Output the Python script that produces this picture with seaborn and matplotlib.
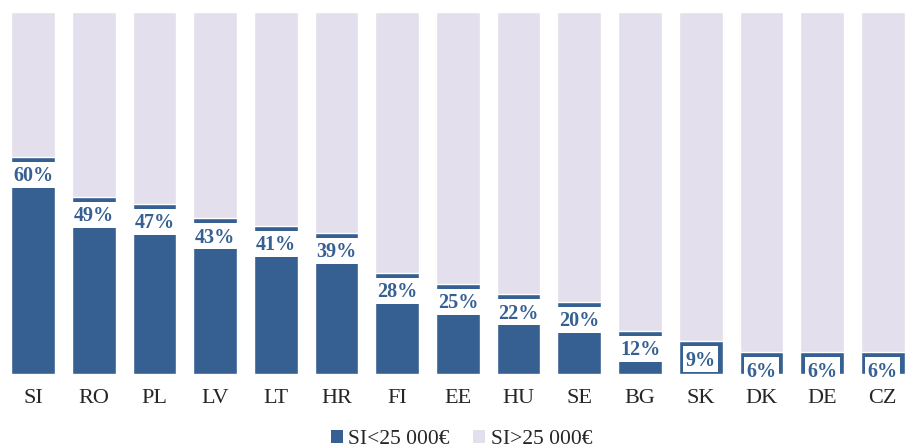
import matplotlib
matplotlib.use("Agg")
import matplotlib.pyplot as plt
import seaborn as sns
import pandas as pd
from matplotlib.patches import Patch, Rectangle

# 데이터
countries = ["SI", "RO", "PL", "LV", "LT", "HR", "FI", "EE", "HU", "SE", "BG", "SK", "DK", "DE", "CZ"]
share_low = [60, 49, 47, 43, 41, 39, 28, 25, 22, 20, 12, 9, 6, 6, 6]
series_names = ["SI<25 000€", "SI>25 000€"]

dark = "#366092"
light = "#E4DFEC"

sns.set_theme(style="white")
plt.rcParams["font.family"] = ["Liberation Serif", "DejaVu Serif"]

df = pd.DataFrame({"country": countries, "low": [v / 100 for v in share_low]})
df["total"] = 1.0

fig = plt.figure(figsize=(9.05, 4.48), dpi=100)
ax = fig.add_axes([0, 74 / 448, 1, 362 / 448])

# 전체(100%) 막대 위에 하위 구간 막대
sns.barplot(data=df, x="country", y="total", color=light, width=0.72, saturation=1, ax=ax)
sns.barplot(data=df, x="country", y="low", color=dark, width=0.72, saturation=1, ax=ax)

ax.set_xlim(-33 / 60.7, (905 - 33) / 60.7)
ax.set_ylim(0, 1)

# 값 라벨 + 흰 배경 박스 (막대 윗부분 5px 남김)
renderer = fig.canvas.get_renderer()
inv = ax.transData.inverted()
for i, v in enumerate(share_low):
    px, py = ax.transData.transform((i, v / 100))
    box_top = py - 5
    box_h = 26
    t = ax.text(i, 0, f"{v}%", ha="center", va="baseline", fontsize=14.5,
                fontweight="bold", color=dark, zorder=5)
    # 숫자 높이 중심이 박스 중앙에 오도록
    base = box_top - box_h / 2 - 6.5
    t.set_position(inv.transform((px, base)))
    ext = t.get_window_extent(renderer)
    w = ext.width + 5
    (x0, y0) = inv.transform((px - w / 2, box_top - box_h))
    (x1, y1) = inv.transform((px + w / 2, box_top))
    ax.add_patch(Rectangle((x0, y0), x1 - x0, y1 - y0, fc="white", ec="none", zorder=4))

ax.set_xlabel("")
ax.set_ylabel("")
ax.set_yticks([])
ax.tick_params(axis="x", length=0, labelsize=16, pad=11)
for s in ax.spines.values():
    s.set_visible(False)

handles = [Patch(facecolor=dark, edgecolor="none"), Patch(facecolor=light, edgecolor="none")]
fig.legend(handles, series_names, loc="lower center", bbox_to_anchor=(0.51, -0.045), ncol=2,
           frameon=False, fontsize=15.5, handlelength=0.55, handleheight=0.55,
           handletextpad=0.25, columnspacing=1.1)

fig.savefig("out.png", dpi=100)
